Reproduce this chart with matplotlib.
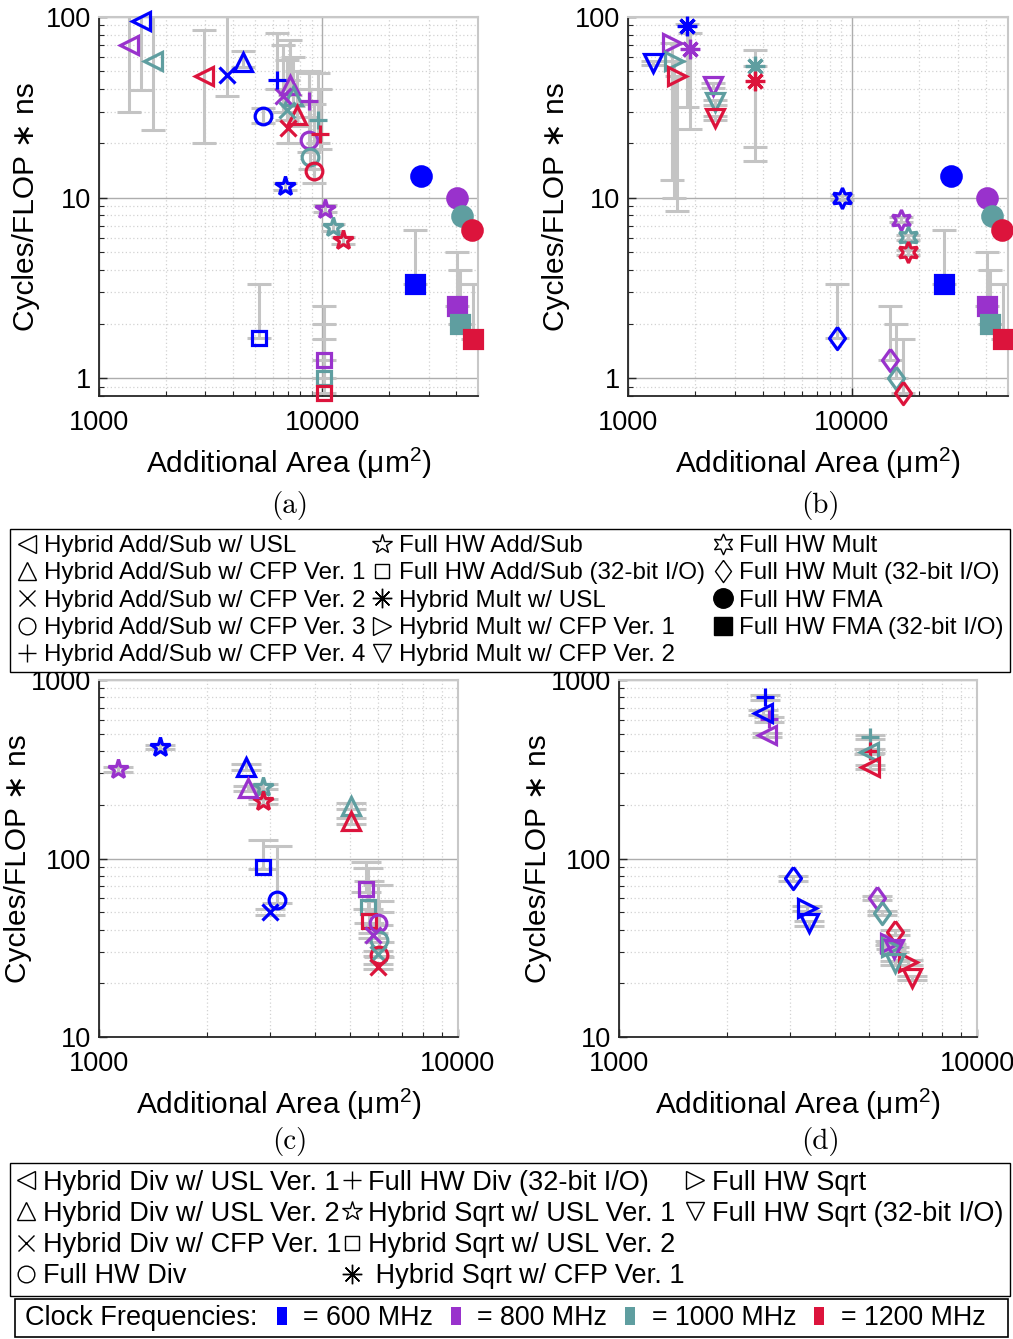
import matplotlib
matplotlib.use('Agg')
import matplotlib.pyplot as plt
from matplotlib.lines import Line2D
from matplotlib.patches import Rectangle
from matplotlib.ticker import FuncFormatter, NullFormatter

plt.rcParams['font.family'] = ['Liberation Sans', 'DejaVu Sans']
plt.rcParams['mathtext.fontset'] = 'custom'
plt.rcParams['mathtext.rm'] = 'Liberation Sans'
plt.rcParams['mathtext.default'] = 'regular'

W, H = 1013, 1339

# clock colours: 600, 800, 1000, 1200 MHz
COLORS = ['#0000ff', '#9932cc', '#5f9ea0', '#dc143c']
FREQ_LABELS = ['= 600 MHz', '= 800 MHz', '= 1000 MHz', '= 1200 MHz']
BAR = '#c4c4c4'

DIAMOND = [(0, 1), (0.72, 0), (0, -1), (-0.72, 0), (0, 1)]
TALLSQ = [(-0.55, -1), (0.55, -1), (0.55, 1), (-0.55, 1), (-0.55, -1)]

# key -> (marker, filled, size)
MARKERS = {
    'ltri': ('<', False, 12.5), 'utri': ('^', False, 12.5), 'rtri': ('>', False, 12.5),
    'dtri': ('v', False, 12.5), 'x': ('x', False, 11), 'o': ('o', False, 12),
    'plus': ('+', False, 13), 'pent': ('*', False, 14.5), 'sq': ('s', False, 10.5),
    'ast': ((8, 2, 0), False, 14), 'hex': ((6, 1, 0), False, 15), 'dia': (DIAMOND, False, 16),
    'fo': ('o', True, 14), 'fs': ('s', True, 12.5),
}

# ---- panel (a): add/sub + FMA
A_KEYS = ['ltri', 'utri', 'x', 'o', 'plus', 'pent', 'sq', 'fo', 'fs']
A_X = [[1540, 1367, 1744, 2958], [4426, 7206, 7380, 7730], [3767, 6680, 6966, 7030],
       [5410, 8710, 8870, 9186], [6280, 8710, 9590, 9750], [6840, 10350, 11200, 12390],
       [5225, 10170, 10170, 10170], [27700, 40200, 42350, 46980], [26000, 40080, 41500, 47300]]
A_Y = [[94.6, 70.3, 56.9, 47.0], [56.6, 42.2, 36.4, 28.8], [48.0, 36.4, 30.7, 24.3],
       [28.2, 20.9, 16.9, 14.0], [45.0, 34.1, 27.0, 22.5], [11.6, 8.69, 6.85, 5.81],
       [1.665, 1.258, 1.0, 0.83], [13.2, 10.0, 7.94, 6.65], [3.33, 2.52, 2.0, 1.66]]
A_LO = [[39.7, 30.0, 23.8, 20.0], [52.6, 37, 32, 25], [36.7, 30, 27, 20],
        [26, 18, 14.5, 12], [40, 28, 20, 18.5], [11.1, 8.3, 6.55, 5.55],
        [1.665, 1.258, 1.0, 0.83], None, [3.33, 2.52, 2.0, 1.66]]
A_HI = [[130, 130, 130, 85], [65, 75, 60, 50], [130, 70, 58, 45],
        [31.5, 49, 40, 33], [82, 50, 49, 40], [12.1, 9.1, 7.15, 6.05],
        [3.33, 2.52, 2.0, 1.66], None, [6.65, 4.98, 4.0, 3.33]]

# ---- panel (b): mult + FMA
B_KEYS = ['ast', 'rtri', 'dtri', 'hex', 'dia', 'fo', 'fs']
B_X = [[1828, 1893, 3680, 3680], [None, 1566, 1603, 1660], [1295, 2393, 2460, 2460],
       [9080, 16600, 17910, 17910], [8630, 14900, 15790, 16920],
       [27700, 40200, 42350, 46980], [26000, 40080, 41500, 47300]]
B_Y = [[89.5, 66.6, 53.8, 44.1], [None, 71.8, 56.9, 47.0], [55.6, 41.7, 33.7, 27.6],
       [10.0, 7.55, 6.06, 5.0], [1.665, 1.258, 1.0, 0.83],
       [13.2, 10.0, 7.94, 6.65], [3.33, 2.52, 2.0, 1.66]]
B_LO = [[31.9, 23.9, 15.9, 19.0], [None, 12.5, 10.0, 8.4], [54, 40.4, 32.7, 26.8],
        [9.7, 7.3, 5.85, 4.85], [1.665, 1.258, 1.0, 0.83], None, [3.33, 2.52, 2.0, 1.66]]
B_HI = [[92, 82, 66, 53.8], [None, 71.8, 56.9, 47.0], [57.3, 43, 34.7, 28.4],
        [10.3, 7.8, 6.25, 5.15], [3.33, 2.52, 2.0, 1.66], None, [6.65, 4.98, 4.0, 3.33]]

# ---- panel (c): div / sqrt
C_KEYS = ['pent', 'utri', 'sq', 'o', 'x']
C_X = [[1483, 1130, 2858, 2858], [2565, 2594, 5020, 5020], [2858, 5545, 5610, 5665],
       [3126, 5972, 6010, 6040], [2993, 5793, 5972, 5972]]
C_Y = [[422.6, 315.7, 252.4, 209.8], [326.6, 247, 196.5, 162.5], [89.7, 67.3, 53.6, 44.7],
       [58.4, 43.7, 35.1, 28.9], [50.2, 37.1, 29.3, 24.7]]
C_LO = [[410, 306, 244, 203], [315, 238, 189, 156], [87, 65, 52, 43.3],
        [56.5, 42.3, 34, 28], [48.5, 36, 28.4, 23.9]]
C_HI = [[435, 325, 260, 216], [338, 256, 204, 169], [127, 96, 88, 75],
        [117, 71, 58, 50], [52, 38.3, 30.2, 25.5]]

# ---- panel (d): div / sqrt
D_KEYS = ['plus', 'ltri', 'dia', 'rtri', 'dtri']
D_X = [[2559, 2617, 5014, 5034], [2522, 2588, 5000, 5034], [3070, 5260, 5433, 5912],
       [3350, 5724, 5750, 6427], [3384, 5850, 5909, 6590]]
D_Y = [[799, 601, 481, 400], [656, 492, 397, 326], [77.4, 60.1, 49.5, 38.7],
       [52.6, 33.6, 32.0, 26.2], [43.4, 31.0, 26.0, 21.4]]
D_LO = [[775, 585, 467, 389], [637, 478, 386, 317], [75, 58.3, 48, 37.5],
        [51, 32.6, 31, 25.4], [42.1, 30, 25.2, 20.8]]
D_HI = [[823, 617, 495, 411], [675, 506, 408, 335], [79.8, 61.9, 51, 39.9],
        [54.2, 34.6, 33, 27], [44.7, 32, 26.8, 22]]

LEG1_KEYS = ['ltri', 'utri', 'x', 'o', 'plus', 'pent', 'sq', 'ast', 'rtri', 'dtri',
             'hex', 'dia', 'fo', 'fs']
LEG1_LABELS = ['Hybrid Add/Sub w/ USL', 'Hybrid Add/Sub w/ CFP Ver. 1',
               'Hybrid Add/Sub w/ CFP Ver. 2', 'Hybrid Add/Sub w/ CFP Ver. 3',
               'Hybrid Add/Sub w/ CFP Ver. 4', 'Full HW Add/Sub', 'Full HW Add/Sub (32-bit I/O)',
               'Hybrid Mult w/ USL', 'Hybrid Mult w/ CFP Ver. 1', 'Hybrid Mult w/ CFP Ver. 2',
               'Full HW Mult', 'Full HW Mult (32-bit I/O)', 'Full HW FMA', 'Full HW FMA (32-bit I/O)']
# None = empty slot so the columns fill 4 / 4 / 2
LEG2_KEYS = ['ltri', 'utri', 'x', 'o', 'plus', 'pent', 'sq', 'ast', 'rtri', 'dtri',
             None, None]
LEG2_LABELS = ['Hybrid Div w/ USL Ver. 1', 'Hybrid Div w/ USL Ver. 2', 'Hybrid Div w/ CFP Ver. 1',
               'Full HW Div', 'Full HW Div (32-bit I/O)', 'Hybrid Sqrt w/ USL Ver. 1',
               'Hybrid Sqrt w/ USL Ver. 2', ' Hybrid Sqrt w/ CFP Ver. 1', 'Full HW Sqrt',
               'Full HW Sqrt (32-bit I/O)', '', '']

FS_TICK = 19.5
FS_LAB = 21.5


def draw_panel(ax, keys, xs, ys, los, his, cap):
    for key, xr, yr, lr, hr in zip(keys, xs, ys, los, his):
        if lr is None:
            continue
        for i in range(4):
            if xr[i] is None:
                continue
            ax.errorbar([xr[i]], [yr[i]], yerr=[[yr[i] - lr[i]], [hr[i] - yr[i]]], fmt='none',
                        ecolor=BAR, elinewidth=2.2, capsize=cap, capthick=2.2, zorder=2)
    for key, xr, yr in zip(keys, xs, ys):
        m, filled, ms = MARKERS[key]
        for i, c in enumerate(COLORS):
            if xr[i] is None:
                continue
            ax.plot([xr[i]], [yr[i]], ls='none', marker=m, ms=ms, mec=c,
                    mfc=c if filled else 'none', mew=2.3, clip_on=False, zorder=3)


def style_axes(ax, xlim, ylim, ylab_x):
    ax.set_xscale('log')
    ax.set_yscale('log')
    ax.set_xlim(*xlim)
    ax.set_ylim(*ylim)
    fmt = FuncFormatter(lambda v, p: f'{v:g}')
    ax.xaxis.set_major_formatter(fmt)
    ax.yaxis.set_major_formatter(fmt)
    ax.xaxis.set_minor_formatter(NullFormatter())
    ax.yaxis.set_minor_formatter(NullFormatter())
    ax.set_axisbelow(True)
    ax.grid(which='major', color='#adadad', lw=1.0, ls='-')
    ax.grid(which='minor', color='#d2d2d2', lw=0.9, ls=(0, (1, 2)))
    for s in ['left', 'bottom']:
        ax.spines[s].set_color('#262626')
        ax.spines[s].set_linewidth(1.3)
    for s in ['top', 'right']:
        ax.spines[s].set_color('#c8c8c8')
        ax.spines[s].set_linewidth(1.5)
    ax.tick_params(which='both', direction='in', labelsize=FS_TICK, top=False, right=False,
                   colors='#262626', labelcolor='black')
    ax.tick_params(which='major', length=6, width=1.0)
    ax.tick_params(which='minor', length=3.5, width=0.8)
    ax.tick_params(axis='x', pad=10)
    ax.tick_params(axis='y', pad=6)
    ax.set_xlabel('Additional Area (μm$^2$)', fontsize=FS_LAB, labelpad=7)
    ax.set_ylabel('Cycles/FLOP ∗ ns', fontsize=FS_LAB)
    ax.yaxis.set_label_coords(ylab_x, 0.5)


fig = plt.figure(figsize=(W / 100, H / 100), dpi=100)

ax_a = fig.add_axes([99 / W, 1 - 396 / H, 379 / W, 379 / H])
ax_b = fig.add_axes([628 / W, 1 - 396 / H, 380 / W, 379 / H])
ax_c = fig.add_axes([99 / W, 1 - 1037 / H, 359 / W, 357 / H])
ax_d = fig.add_axes([619 / W, 1 - 1037 / H, 358 / W, 357 / H])

draw_panel(ax_a, A_KEYS, A_X, A_Y, A_LO, A_HI, 8.5)
draw_panel(ax_b, B_KEYS, B_X, B_Y, B_LO, B_HI, 8.5)
draw_panel(ax_c, C_KEYS, C_X, C_Y, C_LO, C_HI, 10.5)
draw_panel(ax_d, D_KEYS, D_X, D_Y, D_LO, D_HI, 10.5)

style_axes(ax_a, (1000, 50000), (0.8, 100), (40 - 99) / 379)
style_axes(ax_b, (1000, 50000), (0.8, 100), (570 - 628) / 380)
style_axes(ax_c, (1000, 10000), (10, 1000), (32 - 99) / 359)
style_axes(ax_d, (1000, 10000), (10, 1000), (552 - 619) / 358)

for lab, (xc, yc) in zip(['(a)', '(b)', '(c)', '(d)'],
                         [(290, 506), (820, 506), (290, 1141), (820, 1141)]):
    fig.text(xc / W, 1 - yc / H, lab, fontsize=21, family='cmr10', ha='center', va='center')


def legend_handles(keys, ms_scale=1.0):
    hs = []
    for k in keys:
        if k is None:
            hs.append(Line2D([], [], ls='none'))
            continue
        m, filled, ms = MARKERS[k]
        hs.append(Line2D([], [], ls='none', marker=m, ms=ms * ms_scale, mec='black',
                         mfc='black' if filled else 'none', mew=1.0))
    return hs


leg1 = fig.legend(legend_handles(LEG1_KEYS), LEG1_LABELS, ncol=3, loc='upper left',
                  bbox_to_anchor=(10 / W, 1 - 529 / H, 1000 / W, 0), mode='expand',
                  fontsize=17.4, frameon=True, fancybox=False, edgecolor='black', framealpha=1,
                  borderpad=0.25, labelspacing=0.22, handlelength=0.9, handletextpad=0.25,
                  columnspacing=0.4, borderaxespad=0)
leg1.get_frame().set_linewidth(1.0)

leg2 = fig.legend(legend_handles(LEG2_KEYS), LEG2_LABELS, ncol=3, loc='upper left',
                  bbox_to_anchor=(10 / W, 1 - 1163 / H, 1000 / W, 0), mode='expand',
                  fontsize=19.5, frameon=True, fancybox=False, edgecolor='black', framealpha=1,
                  borderpad=0.25, labelspacing=0.19, handlelength=0.7, handletextpad=0.27,
                  columnspacing=0.3, borderaxespad=0)
leg2.get_frame().set_linewidth(1.0)

# clock frequency key
fig.patches.append(Rectangle((15 / W, 1 - 1337 / H), 993 / W, 38 / H, transform=fig.transFigure,
                             fill=False, ec='black', lw=1.2))
fig.text(25 / W, 1 - 1318 / H, 'Clock Frequencies:', fontsize=19.5, va='center', ha='left')
freq_handles = [Line2D([], [], ls='none', marker=TALLSQ, ms=12.5, mec=c, mfc=c, mew=0)
                for c in COLORS]
fig.legend(freq_handles, FREQ_LABELS, ncol=4, loc='center left',
           bbox_to_anchor=(263 / W, 1 - 1318 / H), frameon=False, fontsize=19.3,
           handlelength=0.6, handletextpad=0.5, columnspacing=0.55, borderaxespad=0)

fig.savefig('out.png', dpi=100)
